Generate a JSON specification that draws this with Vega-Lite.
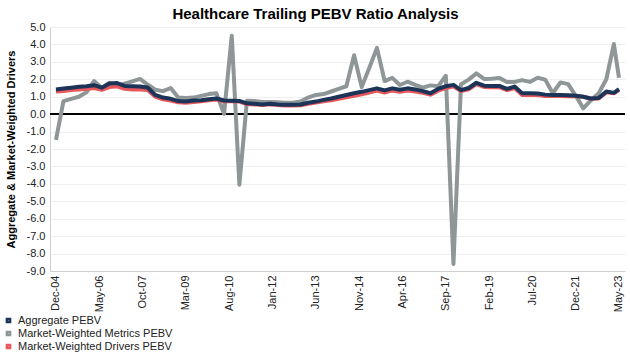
{
  "$schema": "https://vega.github.io/schema/vega-lite/v6.json",
  "width": 575,
  "height": 244,
  "autosize": {"type": "none"},
  "padding": {"left": 50, "top": 27, "right": 5, "bottom": 83},
  "background": "white",
  "config": {
    "font": "Liberation Sans",
    "view": {"stroke": null}
  },
  "title": {
    "text": "Healthcare Trailing PEBV Ratio Analysis",
    "fontSize": 15,
    "fontWeight": "bold",
    "color": "#000000",
    "anchor": "middle",
    "dx": -22,
    "offset": -1
  },
  "data": {
    "values": [
      {"date": "2004-12-01", "Aggregate PEBV": 1.42, "Market-Weighted Metrics PEBV": -1.48, "Market-Weighted Drivers PEBV": 1.3},
      {"date": "2005-03-01", "Aggregate PEBV": 1.47, "Market-Weighted Metrics PEBV": 0.75, "Market-Weighted Drivers PEBV": 1.33},
      {"date": "2005-06-01", "Aggregate PEBV": 1.52, "Market-Weighted Metrics PEBV": 0.88, "Market-Weighted Drivers PEBV": 1.38},
      {"date": "2005-09-01", "Aggregate PEBV": 1.57, "Market-Weighted Metrics PEBV": 1.0, "Market-Weighted Drivers PEBV": 1.42},
      {"date": "2005-12-01", "Aggregate PEBV": 1.6, "Market-Weighted Metrics PEBV": 1.25, "Market-Weighted Drivers PEBV": 1.45},
      {"date": "2006-03-01", "Aggregate PEBV": 1.66, "Market-Weighted Metrics PEBV": 1.9, "Market-Weighted Drivers PEBV": 1.5},
      {"date": "2006-06-01", "Aggregate PEBV": 1.52, "Market-Weighted Metrics PEBV": 1.5, "Market-Weighted Drivers PEBV": 1.4},
      {"date": "2006-09-01", "Aggregate PEBV": 1.76, "Market-Weighted Metrics PEBV": 1.8, "Market-Weighted Drivers PEBV": 1.55},
      {"date": "2006-12-01", "Aggregate PEBV": 1.78, "Market-Weighted Metrics PEBV": 1.6, "Market-Weighted Drivers PEBV": 1.6},
      {"date": "2007-03-01", "Aggregate PEBV": 1.62, "Market-Weighted Metrics PEBV": 1.75, "Market-Weighted Drivers PEBV": 1.45},
      {"date": "2007-06-01", "Aggregate PEBV": 1.6, "Market-Weighted Metrics PEBV": 1.88, "Market-Weighted Drivers PEBV": 1.42},
      {"date": "2007-09-01", "Aggregate PEBV": 1.58, "Market-Weighted Metrics PEBV": 2.02, "Market-Weighted Drivers PEBV": 1.42},
      {"date": "2007-12-01", "Aggregate PEBV": 1.53, "Market-Weighted Metrics PEBV": 1.7, "Market-Weighted Drivers PEBV": 1.38},
      {"date": "2008-03-01", "Aggregate PEBV": 1.1, "Market-Weighted Metrics PEBV": 1.4, "Market-Weighted Drivers PEBV": 1.0},
      {"date": "2008-06-01", "Aggregate PEBV": 0.95, "Market-Weighted Metrics PEBV": 1.32, "Market-Weighted Drivers PEBV": 0.85},
      {"date": "2008-09-01", "Aggregate PEBV": 0.88, "Market-Weighted Metrics PEBV": 1.5, "Market-Weighted Drivers PEBV": 0.78},
      {"date": "2008-12-01", "Aggregate PEBV": 0.75, "Market-Weighted Metrics PEBV": 0.95, "Market-Weighted Drivers PEBV": 0.68},
      {"date": "2009-03-01", "Aggregate PEBV": 0.73, "Market-Weighted Metrics PEBV": 0.92, "Market-Weighted Drivers PEBV": 0.66},
      {"date": "2009-06-01", "Aggregate PEBV": 0.78, "Market-Weighted Metrics PEBV": 0.95, "Market-Weighted Drivers PEBV": 0.7},
      {"date": "2009-09-01", "Aggregate PEBV": 0.8, "Market-Weighted Metrics PEBV": 1.05, "Market-Weighted Drivers PEBV": 0.74},
      {"date": "2009-12-01", "Aggregate PEBV": 0.86, "Market-Weighted Metrics PEBV": 1.15, "Market-Weighted Drivers PEBV": 0.8},
      {"date": "2010-03-01", "Aggregate PEBV": 0.9, "Market-Weighted Metrics PEBV": 1.2, "Market-Weighted Drivers PEBV": 0.84},
      {"date": "2010-06-01", "Aggregate PEBV": 0.78, "Market-Weighted Metrics PEBV": 0.02, "Market-Weighted Drivers PEBV": 0.74},
      {"date": "2010-09-01", "Aggregate PEBV": 0.77, "Market-Weighted Metrics PEBV": 4.5, "Market-Weighted Drivers PEBV": 0.74},
      {"date": "2010-12-01", "Aggregate PEBV": 0.76, "Market-Weighted Metrics PEBV": -4.05, "Market-Weighted Drivers PEBV": 0.72},
      {"date": "2011-03-01", "Aggregate PEBV": 0.62, "Market-Weighted Metrics PEBV": 0.77, "Market-Weighted Drivers PEBV": 0.58},
      {"date": "2011-06-01", "Aggregate PEBV": 0.6, "Market-Weighted Metrics PEBV": 0.75, "Market-Weighted Drivers PEBV": 0.56},
      {"date": "2011-09-01", "Aggregate PEBV": 0.55, "Market-Weighted Metrics PEBV": 0.7, "Market-Weighted Drivers PEBV": 0.52},
      {"date": "2011-12-01", "Aggregate PEBV": 0.6, "Market-Weighted Metrics PEBV": 0.7, "Market-Weighted Drivers PEBV": 0.56},
      {"date": "2012-03-01", "Aggregate PEBV": 0.56, "Market-Weighted Metrics PEBV": 0.68, "Market-Weighted Drivers PEBV": 0.53},
      {"date": "2012-06-01", "Aggregate PEBV": 0.54, "Market-Weighted Metrics PEBV": 0.65, "Market-Weighted Drivers PEBV": 0.5},
      {"date": "2012-09-01", "Aggregate PEBV": 0.54, "Market-Weighted Metrics PEBV": 0.65, "Market-Weighted Drivers PEBV": 0.5},
      {"date": "2012-12-01", "Aggregate PEBV": 0.55, "Market-Weighted Metrics PEBV": 0.72, "Market-Weighted Drivers PEBV": 0.51},
      {"date": "2013-03-01", "Aggregate PEBV": 0.65, "Market-Weighted Metrics PEBV": 0.95, "Market-Weighted Drivers PEBV": 0.6},
      {"date": "2013-06-01", "Aggregate PEBV": 0.72, "Market-Weighted Metrics PEBV": 1.1, "Market-Weighted Drivers PEBV": 0.66},
      {"date": "2013-09-01", "Aggregate PEBV": 0.82, "Market-Weighted Metrics PEBV": 1.15, "Market-Weighted Drivers PEBV": 0.74},
      {"date": "2013-12-01", "Aggregate PEBV": 0.9, "Market-Weighted Metrics PEBV": 1.3, "Market-Weighted Drivers PEBV": 0.8},
      {"date": "2014-03-01", "Aggregate PEBV": 1.0, "Market-Weighted Metrics PEBV": 1.45, "Market-Weighted Drivers PEBV": 0.88},
      {"date": "2014-06-01", "Aggregate PEBV": 1.1, "Market-Weighted Metrics PEBV": 1.6, "Market-Weighted Drivers PEBV": 0.97},
      {"date": "2014-09-01", "Aggregate PEBV": 1.2, "Market-Weighted Metrics PEBV": 3.38, "Market-Weighted Drivers PEBV": 1.06},
      {"date": "2014-12-01", "Aggregate PEBV": 1.28, "Market-Weighted Metrics PEBV": 1.55, "Market-Weighted Drivers PEBV": 1.14},
      {"date": "2015-03-01", "Aggregate PEBV": 1.38, "Market-Weighted Metrics PEBV": 2.65, "Market-Weighted Drivers PEBV": 1.24},
      {"date": "2015-06-01", "Aggregate PEBV": 1.48, "Market-Weighted Metrics PEBV": 3.8, "Market-Weighted Drivers PEBV": 1.35},
      {"date": "2015-09-01", "Aggregate PEBV": 1.36, "Market-Weighted Metrics PEBV": 1.9, "Market-Weighted Drivers PEBV": 1.24},
      {"date": "2015-12-01", "Aggregate PEBV": 1.48, "Market-Weighted Metrics PEBV": 2.08, "Market-Weighted Drivers PEBV": 1.36},
      {"date": "2016-03-01", "Aggregate PEBV": 1.4, "Market-Weighted Metrics PEBV": 1.67, "Market-Weighted Drivers PEBV": 1.28},
      {"date": "2016-06-01", "Aggregate PEBV": 1.48, "Market-Weighted Metrics PEBV": 1.86, "Market-Weighted Drivers PEBV": 1.36},
      {"date": "2016-09-01", "Aggregate PEBV": 1.42, "Market-Weighted Metrics PEBV": 1.68, "Market-Weighted Drivers PEBV": 1.3},
      {"date": "2016-12-01", "Aggregate PEBV": 1.32, "Market-Weighted Metrics PEBV": 1.52, "Market-Weighted Drivers PEBV": 1.22},
      {"date": "2017-03-01", "Aggregate PEBV": 1.2, "Market-Weighted Metrics PEBV": 1.65, "Market-Weighted Drivers PEBV": 1.12},
      {"date": "2017-06-01", "Aggregate PEBV": 1.45, "Market-Weighted Metrics PEBV": 1.6, "Market-Weighted Drivers PEBV": 1.35},
      {"date": "2017-09-01", "Aggregate PEBV": 1.6, "Market-Weighted Metrics PEBV": 2.2, "Market-Weighted Drivers PEBV": 1.5},
      {"date": "2017-12-01", "Aggregate PEBV": 1.68, "Market-Weighted Metrics PEBV": -8.6, "Market-Weighted Drivers PEBV": 1.6},
      {"date": "2018-03-01", "Aggregate PEBV": 1.38, "Market-Weighted Metrics PEBV": 1.72, "Market-Weighted Drivers PEBV": 1.32},
      {"date": "2018-06-01", "Aggregate PEBV": 1.5, "Market-Weighted Metrics PEBV": 1.98, "Market-Weighted Drivers PEBV": 1.42},
      {"date": "2018-09-01", "Aggregate PEBV": 1.8, "Market-Weighted Metrics PEBV": 2.34, "Market-Weighted Drivers PEBV": 1.72},
      {"date": "2018-12-01", "Aggregate PEBV": 1.63, "Market-Weighted Metrics PEBV": 2.02, "Market-Weighted Drivers PEBV": 1.56},
      {"date": "2019-03-01", "Aggregate PEBV": 1.62, "Market-Weighted Metrics PEBV": 2.03, "Market-Weighted Drivers PEBV": 1.55},
      {"date": "2019-06-01", "Aggregate PEBV": 1.62, "Market-Weighted Metrics PEBV": 2.08, "Market-Weighted Drivers PEBV": 1.55},
      {"date": "2019-09-01", "Aggregate PEBV": 1.45, "Market-Weighted Metrics PEBV": 1.85, "Market-Weighted Drivers PEBV": 1.38},
      {"date": "2019-12-01", "Aggregate PEBV": 1.58, "Market-Weighted Metrics PEBV": 1.85, "Market-Weighted Drivers PEBV": 1.5},
      {"date": "2020-03-01", "Aggregate PEBV": 1.2, "Market-Weighted Metrics PEBV": 1.95, "Market-Weighted Drivers PEBV": 1.1},
      {"date": "2020-06-01", "Aggregate PEBV": 1.2, "Market-Weighted Metrics PEBV": 1.85, "Market-Weighted Drivers PEBV": 1.1},
      {"date": "2020-09-01", "Aggregate PEBV": 1.19, "Market-Weighted Metrics PEBV": 2.09, "Market-Weighted Drivers PEBV": 1.1},
      {"date": "2020-12-01", "Aggregate PEBV": 1.12, "Market-Weighted Metrics PEBV": 1.98, "Market-Weighted Drivers PEBV": 1.04},
      {"date": "2021-03-01", "Aggregate PEBV": 1.1, "Market-Weighted Metrics PEBV": 1.2, "Market-Weighted Drivers PEBV": 1.04},
      {"date": "2021-06-01", "Aggregate PEBV": 1.1, "Market-Weighted Metrics PEBV": 1.82, "Market-Weighted Drivers PEBV": 1.04},
      {"date": "2021-09-01", "Aggregate PEBV": 1.08, "Market-Weighted Metrics PEBV": 1.72, "Market-Weighted Drivers PEBV": 1.03},
      {"date": "2021-12-01", "Aggregate PEBV": 1.05, "Market-Weighted Metrics PEBV": 1.05, "Market-Weighted Drivers PEBV": 1.02},
      {"date": "2022-03-01", "Aggregate PEBV": 1.0, "Market-Weighted Metrics PEBV": 0.33, "Market-Weighted Drivers PEBV": 1.0},
      {"date": "2022-06-01", "Aggregate PEBV": 0.9, "Market-Weighted Metrics PEBV": 0.8, "Market-Weighted Drivers PEBV": 0.88},
      {"date": "2022-09-01", "Aggregate PEBV": 0.92, "Market-Weighted Metrics PEBV": 1.2, "Market-Weighted Drivers PEBV": 0.9},
      {"date": "2022-12-01", "Aggregate PEBV": 1.3, "Market-Weighted Metrics PEBV": 2.0, "Market-Weighted Drivers PEBV": 1.25},
      {"date": "2023-03-01", "Aggregate PEBV": 1.22, "Market-Weighted Metrics PEBV": 4.02, "Market-Weighted Drivers PEBV": 1.2},
      {"date": "2023-05-01", "Aggregate PEBV": 1.43, "Market-Weighted Metrics PEBV": 2.09, "Market-Weighted Drivers PEBV": 1.38}
    ]
  },
  "transform": [
    {"fold": ["Aggregate PEBV", "Market-Weighted Metrics PEBV", "Market-Weighted Drivers PEBV"], "as": ["series", "value"]}
  ],
  "encoding": {
    "x": {
      "field": "date",
      "type": "temporal",
      "title": null,
      "scale": {
        "domain": [
          {"year": 2004, "month": 9, "date": 21},
          {"year": 2023, "month": 7, "date": 12}
        ]
      },
      "axis": {
        "values": [
          {"year": 2004, "month": 12, "date": 1},
          {"year": 2006, "month": 5, "date": 1},
          {"year": 2007, "month": 10, "date": 1},
          {"year": 2009, "month": 3, "date": 1},
          {"year": 2010, "month": 8, "date": 1},
          {"year": 2012, "month": 1, "date": 1},
          {"year": 2013, "month": 6, "date": 1},
          {"year": 2014, "month": 11, "date": 1},
          {"year": 2016, "month": 4, "date": 1},
          {"year": 2017, "month": 9, "date": 1},
          {"year": 2019, "month": 2, "date": 1},
          {"year": 2020, "month": 7, "date": 1},
          {"year": 2021, "month": 12, "date": 1},
          {"year": 2023, "month": 5, "date": 1}
        ],
        "format": "%b-%y",
        "labelAngle": -90,
        "labelFontSize": 11,
        "labelColor": "#222222",
        "labelPadding": 4,
        "ticks": false,
        "grid": false,
        "domainColor": "#cfcfcf",
        "labelOverlap": false,
        "labelFlush": false
      }
    },
    "y": {
      "field": "value",
      "type": "quantitative",
      "scale": {"domain": [-9, 5], "nice": false},
      "title": "Aggregate & Market-Weighted Drivers",
      "axis": {
        "values": [-9, -8, -7, -6, -5, -4, -3, -2, -1, 0, 1, 2, 3, 4, 5],
        "labelExpr": "datum.value < 0 ? '-' + format(-datum.value, '.1f') : format(datum.value, '.1f')",
        "labelFontSize": 11,
        "labelColor": "#222222",
        "ticks": false,
        "labelPadding": 5,
        "gridColor": "#efefef",
        "domainColor": "#cfcfcf",
        "titleFontSize": 11,
        "titleFontWeight": "bold",
        "titleColor": "#000000",
        "titlePadding": 10
      }
    },
    "color": {
      "field": "series",
      "type": "nominal",
      "scale": {
        "domain": ["Aggregate PEBV", "Market-Weighted Metrics PEBV", "Market-Weighted Drivers PEBV"],
        "range": ["#1c3458", "#8e9698", "#e8585c"]
      },
      "legend": {
        "title": null,
        "orient": "none",
        "legendX": -47,
        "legendY": 288,
        "direction": "vertical",
        "symbolType": "square",
        "symbolSize": 10,
        "symbolStrokeWidth": 2.5,
        "labelFontSize": 11,
        "labelColor": "#222222",
        "rowPadding": -2,
        "labelOffset": 4
      }
    }
  },
  "layer": [
    {
      "mark": {"type": "rule", "color": "#000000", "strokeWidth": 1.5},
      "encoding": {"y": {"datum": 0}, "x": {"value": 0}, "x2": {"value": 575}, "color": {"value": "#000000"}}
    },
    {
      "transform": [{"filter": "datum.series === 'Market-Weighted Metrics PEBV'"}],
      "mark": {"type": "line", "strokeWidth": 4, "strokeJoin": "round"}
    },
    {
      "transform": [{"filter": "datum.series === 'Market-Weighted Drivers PEBV'"}],
      "mark": {"type": "line", "strokeWidth": 4, "strokeJoin": "round"}
    },
    {
      "transform": [{"filter": "datum.series === 'Aggregate PEBV'"}],
      "mark": {"type": "line", "strokeWidth": 4, "strokeJoin": "round"}
    }
  ]
}
